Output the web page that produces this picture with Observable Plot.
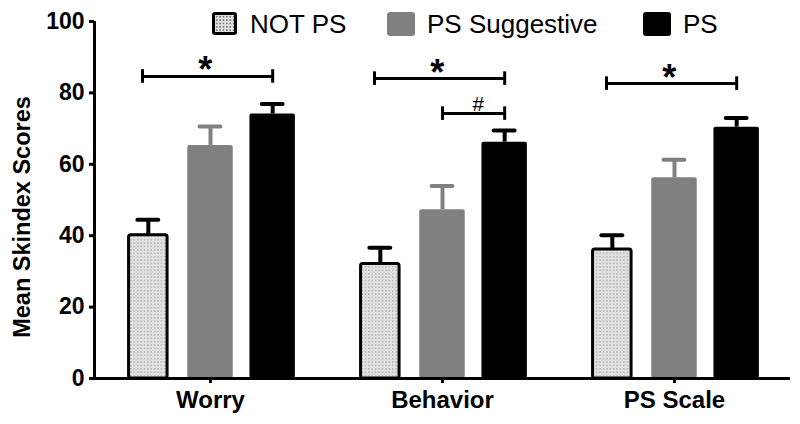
<!DOCTYPE html>
<html>
<head>
<meta charset="utf-8">
<script src="https://cdn.jsdelivr.net/npm/d3@7"></script>
<script src="https://cdn.jsdelivr.net/npm/@observablehq/plot@0.6"></script>
<style>
  body { margin: 0; background: #fff; font-family: "Liberation Sans", Arial, sans-serif; }
  #wrap { position: relative; width: 800px; height: 424px; overflow: hidden; }
  .sw { position: absolute; box-sizing: border-box; border-radius: 3px; }
  .lab { position: absolute; font-size: 26px; line-height: 26px; color: #000; white-space: nowrap; }
</style>
</head>
<body>
<div id="wrap"></div>
<script>
// ---- data ----
const categories = ["Worry", "Behavior", "PS Scale"];
const groups = ["NOT PS", "PS Suggestive", "PS"];
const meanNotPS = [40.1, 32.1, 36.1];
const meanSuggestive = [65.3, 47.3, 56.2];
const meanPS = [74.1, 66.2, 70.4];
const semNotPS = [4.4, 4.5, 4.0];
const semSuggestive = [5.3, 6.6, 5.1];
const semPS = [2.8, 3.3, 2.6];
const yTicks = [0, 20, 40, 60, 80, 100];
const brackets = [
  {category: "Worry", from: "NOT PS", to: "PS", y: 84.6, label: "*"},
  {category: "Behavior", from: "NOT PS", to: "PS", y: 84.0, label: "*"},
  {category: "Behavior", from: "PS Suggestive", to: "PS", y: 74.2, label: "#"},
  {category: "PS Scale", from: "NOT PS", to: "PS", y: 82.6, label: "*"}
];

const groupColor = {"NOT PS": "#000", "PS Suggestive": "#808080", "PS": "#000"};
const means = [meanNotPS, meanSuggestive, meanPS];
const sems = [semNotPS, semSuggestive, semPS];
const offset = 0.268;
const xOf = (cat, grp) => categories.indexOf(cat) + (groups.indexOf(grp) - 1) * offset;

const rows = [];
categories.forEach((c, i) => groups.forEach((g, j) => {
  rows.push({category: c, group: g, x: xOf(c, g), mean: means[j][i], sem: sems[j][i], color: groupColor[g]});
}));

const halfW = 0.098, halfWDots = 0.083, capHalf = 0.045;
// significance brackets start slightly left of the first bar centre
const bracketStart = d => xOf(d.category, d.from) - (d.label === "*" ? 0.025 : 0);
const bracketEnd = d => xOf(d.category, d.to);

const chart = Plot.plot({
  width: 800,
  height: 424,
  marginTop: 21,
  marginBottom: 46,
  marginLeft: 94,
  marginRight: 10,
  style: {fontFamily: "'Liberation Sans', Arial, sans-serif", fontWeight: "bold", color: "#000", background: "#fff"},
  x: {domain: [-0.5, 2.5], axis: null},
  y: {domain: [0, 100], axis: null},
  color: {type: "identity"},
  marks: [
    // bars
    Plot.rect(rows.filter(d => d.group === "NOT PS"), {
      x1: d => d.x - halfWDots, x2: d => d.x + halfWDots, y1: 0, y2: "mean",
      fill: "url(#dots)", stroke: "#000", strokeWidth: 3, rx: 2
    }),
    Plot.rect(rows.filter(d => d.group === "PS Suggestive"), {
      x1: d => d.x - halfW, x2: d => d.x + halfW, y1: 0, y2: "mean", fill: "#808080", rx: 2
    }),
    Plot.rect(rows.filter(d => d.group === "PS"), {
      x1: d => d.x - halfW, x2: d => d.x + halfW, y1: 0, y2: "mean", fill: "#000", rx: 2
    }),
    // error bars
    Plot.ruleX(rows, {x: "x", y1: "mean", y2: d => d.mean + d.sem, stroke: "color", strokeWidth: 4}),
    Plot.ruleY(rows, {y: d => d.mean + d.sem, x1: d => d.x - capHalf, x2: d => d.x + capHalf,
      stroke: "color", strokeWidth: 4, strokeLinecap: "round"}),
    // axes lines
    Plot.ruleY([0], {strokeWidth: 3}),
    Plot.ruleX([-0.5], {strokeWidth: 3}),
    Plot.axisY({ticks: yTicks, tickSize: 5, tickPadding: 5, fontSize: 23, fontWeight: "bold", strokeWidth: 3, label: null}),
    Plot.axisX({ticks: [0, 1, 2], tickFormat: i => categories[i], tickSize: 5, tickPadding: 7, fontSize: 24, fontWeight: "bold", strokeWidth: 3, label: null}),
    // y label
    Plot.text(["Mean Skindex Scores"], {frameAnchor: "left", rotate: -90, dx: -72, dy: 17,
      fontSize: 23.5, fontWeight: "bold", textAnchor: "middle", lineAnchor: "middle"}),
    // significance brackets
    Plot.ruleY(brackets, {y: "y", x1: bracketStart, x2: bracketEnd, strokeWidth: 3}),
    Plot.ruleX(brackets, {x: bracketStart, y1: d => d.y - 1.9, y2: d => d.y + 1.9, strokeWidth: 3}),
    Plot.ruleX(brackets, {x: bracketEnd, y1: d => d.y - 1.9, y2: d => d.y + 1.9, strokeWidth: 3}),
    Plot.text(brackets.filter(d => d.label === "*"), {
      x: d => (bracketStart(d) + bracketEnd(d)) / 2 - 0.01, y: "y", text: "label",
      fontSize: 36, fontWeight: "bold", lineAnchor: "bottom", dy: 6
    }),
    Plot.text(brackets.filter(d => d.label === "#"), {
      x: d => (bracketStart(d) + bracketEnd(d)) / 2 + 0.02, y: "y", text: "label",
      fontSize: 21, fontWeight: "normal", fill: "#000", lineAnchor: "bottom", dy: -3
    })
  ]
});

// dotted pattern definition
const defs = d3.select(chart).insert("defs", ":first-child");
const pat = defs.append("pattern").attr("id", "dots").attr("patternUnits", "userSpaceOnUse")
  .attr("width", 3.4).attr("height", 3.4);
pat.append("rect").attr("width", 3.4).attr("height", 3.4).attr("fill", "#e2e2e2");
pat.append("circle").attr("cx", 1.7).attr("cy", 1.7).attr("r", 0.6).attr("fill", "#7a7a7a");

const wrap = document.getElementById("wrap");
wrap.appendChild(chart);

// legend (HTML overlay)
const legendItems = [
  {group: groups[0], sx: 212, sw: 25, sh: 23, lx: 250,
   style: "border:3px solid #000;background-color:#e2e2e2;background-image:radial-gradient(circle,#7a7a7a 0.6px,transparent 0.9px);background-size:3.4px 3.4px;"},
  {group: groups[1], sx: 387, sw: 28, sh: 24, lx: 427, style: "background:#808080;"},
  {group: groups[2], sx: 643, sw: 28, sh: 24, lx: 683, style: "background:#000;"}
];
legendItems.forEach(it => {
  const s = document.createElement("div");
  s.className = "sw";
  s.style.cssText = `left:${it.sx}px;top:12px;width:${it.sw}px;height:${it.sh}px;` + it.style;
  wrap.appendChild(s);
  const t = document.createElement("div");
  t.className = "lab";
  t.style.left = it.lx + "px";
  t.style.top = "11px";
  t.textContent = it.group;
  wrap.appendChild(t);
});
</script>
</body>
</html>
